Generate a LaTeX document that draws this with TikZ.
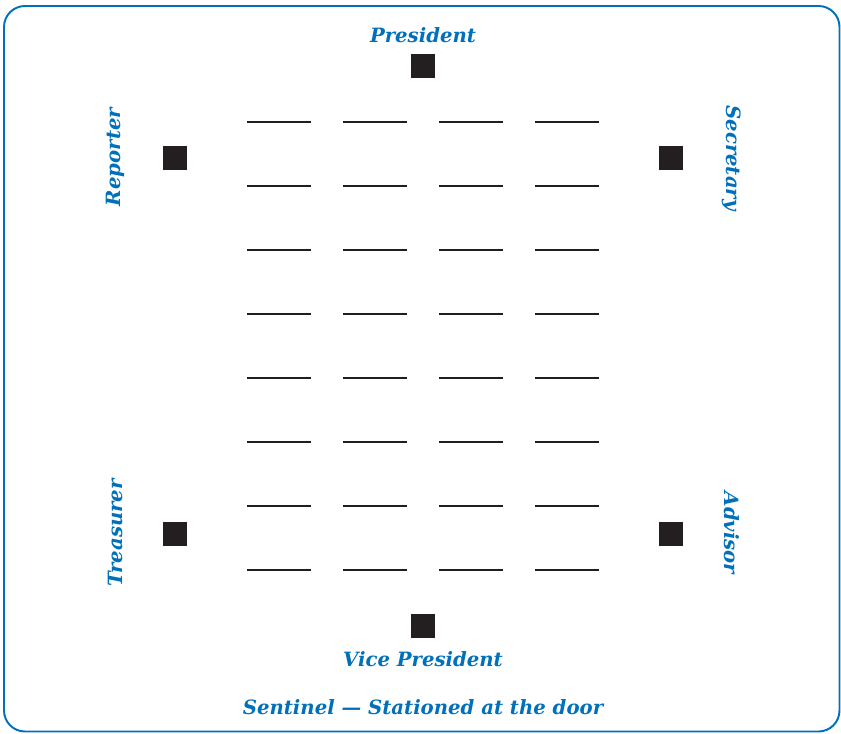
\documentclass[tikz,border=0pt]{standalone}
\usepackage{fontspec}
\setmainfont{DejaVu Serif}
\usepackage{tikz}
\usepackage{xcolor}
\definecolor{Frame}{RGB}{0,112,186}
\definecolor{Label}{RGB}{0,112,186}
\definecolor{Seat}{RGB}{35,31,32}

\begin{document}
\begin{tikzpicture}[x=0.02cm,y=-0.02cm,
  officer/.style={fill=Seat, minimum size=0.48cm, inner sep=0pt},
  title/.style={text=Label, font=\bfseries\itshape\fontsize{11.2}{13}\selectfont, inner sep=0pt}]
\useasboundingbox (0,0) rectangle (841,733);
\draw[Frame, line width=1.1pt, rounded corners=0.42cm] (4,6) rectangle (839.5,731.5);

% officers' stations
\node[officer] (pres) at (423,66) {};
\node[officer] (vice) at (423,626) {};
\node[officer] (rep) at (175,158) {};
\node[officer] (sec) at (671,158) {};
\node[officer] (treas) at (175,534) {};
\node[officer] (adv) at (671,534) {};

\node[title] (presl) at (423,35) {President};
\node[title] (vicel) at (423,659) {Vice President};
\node[title, rotate=90] (repl) at (115,157) {Reporter};
\node[title, rotate=-90] (secl) at (732,158) {Secretary};
\node[title, rotate=90] (treasl) at (115,533) {Treasurer};
\node[title, rotate=-90] (advl) at (732,533) {Advisor};
\node[title] (sent) at (423,707) {Sentinel — Stationed at the door};

% member seats
\foreach \col in {0,...,3}
  \foreach \row in {0,...,7}
    \draw[Seat, line width=1pt] (247+96*\col,122+64*\row) -- ++(64,0);
\end{tikzpicture}
\end{document}
